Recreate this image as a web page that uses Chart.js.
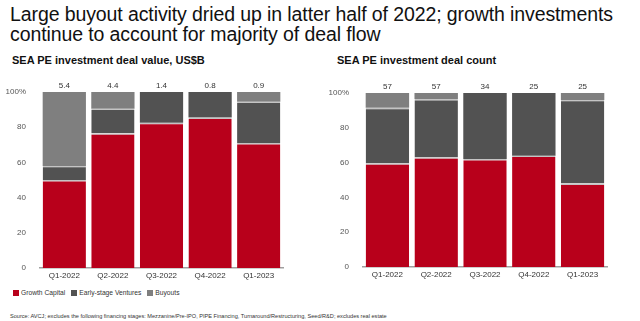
<!DOCTYPE html>
<html>
<head>
<meta charset="utf-8">
<script src="https://cdn.jsdelivr.net/npm/chart.js@4.4.1/dist/chart.umd.min.js"></script>
<style>
    body { margin: 0; width: 640px; height: 321px; background: #fff; position: relative; overflow: hidden; font-family: "Liberation Sans", Arial, sans-serif; color: #111; }
    #headline { position: absolute; left: 10px; top: 4px; font-size: 19.5px; line-height: 20px; letter-spacing: -0.1px; }
    .subtitle { position: absolute; top: 54px; font-size: 11px; font-weight: bold; }
    .box { position: absolute; }
    #legend { position: absolute; left: 13px; top: 289px; font-size: 6.7px; color: #333; display: flex; }
    #legend span.item { display: flex; align-items: center; margin-right: 6px; }
    #legend i { display: inline-block; width: 6px; height: 6px; margin-right: 2px; }
    #source { position: absolute; left: 10px; top: 313px; font-size: 5.6px; color: #333; white-space: nowrap; }
</style>
</head>
<body>
<div id="headline">Large buyout activity dried up in latter half of 2022; growth investments<br>continue to account for majority of deal flow</div>
<div class="subtitle" style="left:12px">SEA PE investment deal value, US$B</div>
<div class="subtitle" style="left:337px">SEA PE investment deal count</div>
<div class="box" style="left:0; top:75px; width:300px; height:210px"><canvas id="valueChart"></canvas></div>
<div class="box" style="left:320px; top:75px; width:320px; height:209px"><canvas id="countChart"></canvas></div>
<div id="legend"></div>
<div id="source">Source: AVCJ;  excludes the following financing stages: Mezzanine/Pre-IPO, PIPE Financing, Turnaround/Restructuring, Seed/R&amp;D; excludes real estate</div>

<script>
// Quarters on the x axis
const quarters = ['Q1-2022', 'Q2-2022', 'Q3-2022', 'Q4-2022', 'Q1-2023'];
const stageNames = ['Growth Capital', 'Early-stage Ventures', 'Buyouts'];
const stageColors = ['#B8001B', '#525252', '#7F7F7F'];

// Deal value share by stage (%), plus totals in US$B
const valueGrowth = [50, 76.5, 82.5, 85.5, 71];
const valueEarly = [8, 14, 17.5, 14.5, 23.5];
const valueBuyouts = [42, 9.5, 0, 0, 5.5];
const valueTotals = ['5.4', '4.4', '1.4', '0.8', '0.9'];

// Deal count share by stage (%), plus number of deals
const countGrowth = [59.5, 63, 62, 64, 48];
const countEarly = [32, 33.5, 38, 36, 48];
const countBuyouts = [8.5, 3.5, 0, 0, 4];
const countTotals = ['57', '57', '34', '25', '25'];

const yTicks = [0, 20, 40, 60, 80, 100];

// Numbers printed above each stacked bar
const totalsPlugin = {
    id: 'totals',
    afterDatasetsDraw(chart, args, opts) {
        const ctx = chart.ctx;
        const x = chart.scales.x;
        const y = chart.scales.y;
        ctx.save();
        ctx.font = '8px "Liberation Sans", Arial, sans-serif';
        ctx.fillStyle = '#333';
        ctx.textAlign = 'center';
        ctx.textBaseline = 'bottom';
        opts.labels.forEach((t, i) => {
            ctx.fillText(t, x.getPixelForValue(i), y.getPixelForValue(100) - 2);
        });
        ctx.restore();
    }
};

function makeChart(canvasId, series, totals, yWidth, rightPad, topPad) {
    const ctx = document.getElementById(canvasId).getContext('2d');
    // light seam only where another segment sits on top
    const seam = (i) => (c) => {
        const above = series.slice(i + 1).some(s => s[c.dataIndex] > 0);
        return { top: above ? 1.4 : 0 };
    };
    return new Chart(ctx, {
        type: 'bar',
        data: {
            labels: quarters,
            datasets: series.map((data, i) => ({
                label: stageNames[i],
                data: data,
                backgroundColor: stageColors[i],
                borderColor: '#C4C4C4',
                borderWidth: seam(i),
                borderSkipped: 'bottom',
                categoryPercentage: 1,
                barPercentage: 0.89
            }))
        },
        options: {
            responsive: true,
            maintainAspectRatio: false,
            animation: false,
            layout: { padding: { left: 0, right: rightPad, top: topPad, bottom: 0 } },
            plugins: {
                legend: { display: false },
                tooltip: { enabled: false },
                totals: { labels: totals }
            },
            scales: {
                x: {
                    stacked: true,
                    grid: { display: false, drawTicks: false },
                    border: { color: '#A0A0A0', width: 1.5 },
                    ticks: { color: '#333', font: { size: 8, family: '"Liberation Sans", Arial, sans-serif' }, padding: 3 },
                    afterFit: s => { s.height = 17; }
                },
                y: {
                    stacked: true,
                    min: 0,
                    max: 100,
                    afterBuildTicks: s => { s.ticks = yTicks.map(v => ({ value: v })); },
                    grid: { display: false },
                    border: { display: false },
                    ticks: {
                        color: '#555',
                        padding: 6,
                        font: { size: 8, family: '"Liberation Sans", Arial, sans-serif' },
                        callback: v => v === 100 ? '100%' : v
                    },
                    afterFit: s => { s.width = yWidth; }
                }
            }
        },
        plugins: [totalsPlugin]
    });
}

makeChart('valueChart', [valueGrowth, valueEarly, valueBuyouts], valueTotals, 40, 17, 17);
makeChart('countChart', [countGrowth, countEarly, countBuyouts], countTotals, 43, 33, 18);

// Shared legend under the left chart
const legend = document.getElementById('legend');
stageNames.forEach((name, i) => {
    const item = document.createElement('span');
    item.className = 'item';
    item.innerHTML = '<i style="background:' + stageColors[i] + '"></i>' + name;
    legend.appendChild(item);
});
</script>
</body>
</html>
